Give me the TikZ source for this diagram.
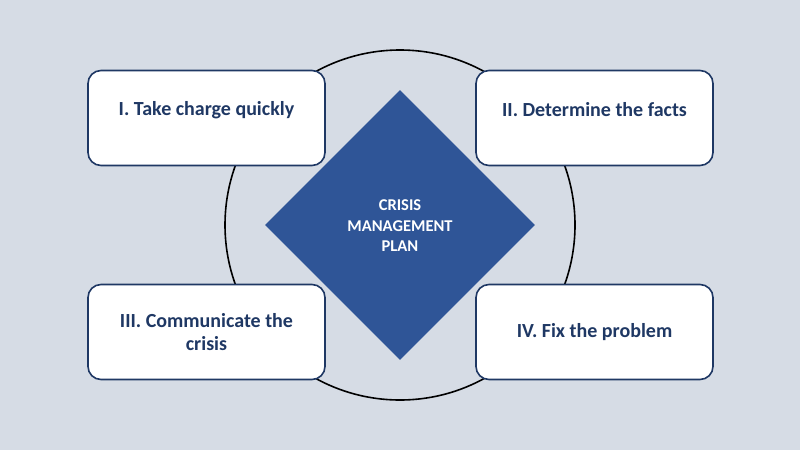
\documentclass[tikz,border=0pt]{standalone}
\usepackage{fontspec}
\setmainfont{Carlito}
\usetikzlibrary{shapes.geometric}
\definecolor{bgc}{HTML}{D6DCE5}
\definecolor{navy}{HTML}{1F3864}
\definecolor{dia}{HTML}{2F5597}
\tikzset{
  box/.style={draw=navy, line width=1.6pt, fill=white, rounded corners=13pt,
    minimum width=237pt, minimum height=95pt, inner sep=0pt},
  boxtext/.style={text=navy, font=\bfseries\fontsize{20}{23}\selectfont, align=center, inner sep=0pt},
  ring/.style={draw=black, line width=1.6pt}
}
\begin{document}
\begin{tikzpicture}[x=1pt,y=-1pt]
\fill[bgc] (0,0) rectangle (800,450);
\useasboundingbox (0,0) rectangle (800,450);
\node[ring, circle, minimum size=350pt, inner sep=0pt] (ring) at (400,225) {};
\node[box] (b1) at (206.5,118) {};
\node[box] (b2) at (594.5,118) {};
\node[box] (b3) at (206.5,332) {};
\node[box] (b4) at (594.5,332) {};
\node[boxtext] (t1) at (206.5,110) {I. Take charge quickly};
\node[boxtext] (t2) at (594.5,110) {II. Determine the facts};
\node[boxtext] (t3) at (206.5,332.5) {III. Communicate the\\crisis};
\node[boxtext] (t4) at (594.5,332) {IV. Fix the problem};
\node[diamond, fill=dia, minimum width=270pt, minimum height=270pt, inner sep=0pt, aspect=1] (d) at (400,225) {};
\node[text=white, font=\bfseries\fontsize{16.5}{20.5}\selectfont, align=center, inner sep=0pt] (dt) at (400,226) {CRISIS\\MANAGEMENT\\PLAN};
\end{tikzpicture}
\end{document}
